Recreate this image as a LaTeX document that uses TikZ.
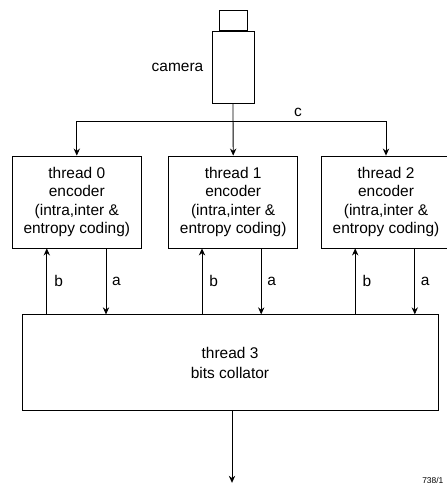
\documentclass[tikz,border=0pt]{standalone}
\usepackage{fontspec}
\setmainfont{Liberation Sans}
\usetikzlibrary{arrows.meta, positioning}

\begin{document}
\begin{tikzpicture}[
  encoder/.style={rectangle, draw=black, fill=white, line width=0.6pt,
    minimum width=3.22cm, minimum height=2.3cm,
    align=center, font=\fontsize{11}{13.2}\selectfont, inner sep=0pt},
  collator/.style={rectangle, draw=black, fill=white, line width=0.6pt,
    minimum width=10.4cm, minimum height=2.4cm,
    align=center, font=\fontsize{11}{13.8}\selectfont, inner sep=0pt},
  camerabody/.style={rectangle, draw=black, fill=white, line width=0.6pt,
    minimum width=1.05cm, minimum height=1.8cm, inner sep=0pt},
  cameratop/.style={rectangle, draw=black, fill=white, line width=0.6pt,
    minimum width=0.7cm, minimum height=0.5cm, inner sep=0pt},
  arr/.style={-{Stealth[length=5pt,width=4.5pt]}, line width=0.6pt, color=black},
  lbl/.style={font=\fontsize{11}{13.2}\selectfont, text=black, inner sep=0pt}
]
  \useasboundingbox (0,0) rectangle (11.15,-12.075);

  % Camera
  \node[camerabody] (body) at (5.825,-1.675) {};
  \node[cameratop, above=0pt of body] (top) {};
  \node[lbl, left=0.2cm of body] (camlbl) {camera};

  % Encoders
  \node[encoder] (enc0) at (1.92,-5.05)
    {thread 0\\encoder\\(intra,inter \&\\entropy coding)};
  \node[encoder] (enc1) at (5.83,-5.05)
    {thread 1\\encoder\\(intra,inter \&\\entropy coding)};
  \node[encoder] (enc2) at (9.65,-5.05)
    {thread 2\\encoder\\(intra,inter \&\\entropy coding)};

  % Collator
  \node[collator] (coll) at (5.75,-9.07) {thread 3\\bits collator};
  \coordinate (out) at (5.8,-12.07);
  \node[font=\fontsize{6}{6}\selectfont, inner sep=0pt] (ref) at (10.82,-12.0) {738/1};

  % Camera to encoders
  \coordinate (bus) at (5.83,-3.03);
  \draw[arr] (body.south) -- (enc1.north);
  \draw[arr] (bus) -| (enc0.north);
  \draw[arr] (bus) -| (enc2.north);
  \node[lbl, above=3pt of bus, xshift=1.62cm] (c) {c};

  % Encoders and collator
  \coordinate (b0) at (1.17,-7);
  \coordinate (a0) at (2.65,-7);
  \coordinate (b1) at (5.05,-7);
  \coordinate (a1) at (6.53,-7);
  \coordinate (b2) at (8.88,-7);
  \coordinate (a2) at (10.37,-7);
  \draw[arr] (b0 |- coll.north) -- node[lbl, right=5pt]{b} (b0 |- enc0.south);
  \draw[arr] (a0 |- enc0.south) -- node[lbl, right=4pt]{a} (a0 |- coll.north);
  \draw[arr] (b1 |- coll.north) -- node[lbl, right=5pt]{b} (b1 |- enc1.south);
  \draw[arr] (a1 |- enc1.south) -- node[lbl, right=4pt]{a} (a1 |- coll.north);
  \draw[arr] (b2 |- coll.north) -- node[lbl, right=5pt]{b} (b2 |- enc2.south);
  \draw[arr] (a2 |- enc2.south) -- node[lbl, right=4pt]{a} (a2 |- coll.north);

  % Output
  \draw[arr] (coll.south -| out) -- (out);
\end{tikzpicture}
\end{document}
